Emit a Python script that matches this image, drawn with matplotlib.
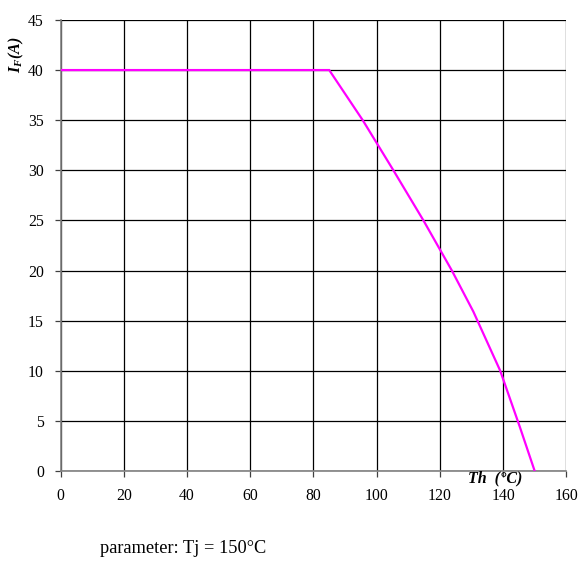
import numpy as np
import matplotlib
matplotlib.use("Agg")
import matplotlib.pyplot as plt

plt.rcParams['font.family'] = ['Liberation Serif', 'DejaVu Serif']
plt.rcParams['mathtext.fontset'] = 'custom'
plt.rcParams['mathtext.rm'] = 'Liberation Serif'
plt.rcParams['mathtext.it'] = 'Liberation Serif:italic'
plt.rcParams['mathtext.bf'] = 'Liberation Serif:bold:italic'

# derating curve
th = [0, 85, 95.6, 105.3, 114.8, 123.8, 130.6, 139.1, 145.3, 150]
i_f = [40, 40, 35, 30, 25, 20, 15.9, 10, 4.4, 0]

x_ticks = [0, 20, 40, 60, 80, 100, 120, 140, 160]
y_ticks = [0, 5, 10, 15, 20, 25, 30, 35, 40, 45]

fig = plt.figure(figsize=(5.82, 5.70), dpi=100)
ax = fig.add_axes([0.104, 0.1737, 0.869, 0.7913])

ax.plot(th, i_f, color='#FF00FF', lw=1.6, solid_joinstyle='miter', zorder=3)

ax.set_xlim(0, 160)
ax.set_ylim(0, 45)
ax.set_xticks(x_ticks)
ax.set_yticks(y_ticks)
ax.grid(True, color='black', lw=0.9)
ax.set_axisbelow(True)

for s in ['top', 'right']:
    ax.spines[s].set_visible(False)
for s in ['left', 'bottom']:
    ax.spines[s].set_color('#808080')
    ax.spines[s].set_linewidth(1.2)
    ax.spines[s].set_zorder(2.5)

ax.tick_params(axis='both', length=4, width=0.9, color='#404040',
               labelsize=11.3, direction='out')
ax.tick_params(axis='x', pad=8)
ax.tick_params(axis='y', pad=8)

fig.text(0.029, 0.904, r'$\mathbf{I_F(A)}$', rotation=90, fontsize=11.5,
         ha='center', va='center')

fig.text(0.851, 0.161, 'Th  (°C)', fontsize=11.5, fontweight='bold',
         fontstyle='italic', ha='center', va='center')

fig.text(0.172, 0.037, 'parameter: Tj = 150°C', fontsize=13.2,
         ha='left', va='center')

fig.savefig('out.png', dpi=100)
